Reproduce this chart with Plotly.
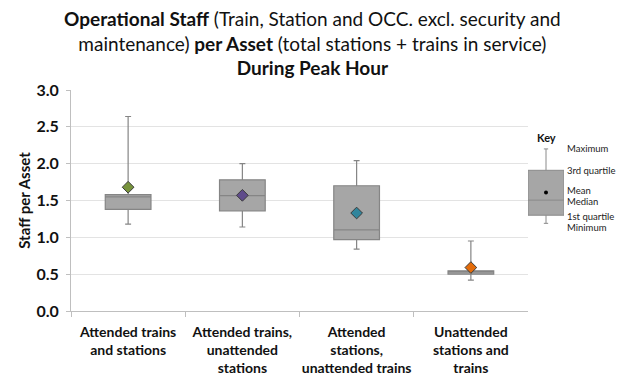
import plotly.graph_objects as go

categories = ["Attended trains<br>and stations",
              "Attended trains,<br>unattended<br>stations",
              "Attended<br>stations,<br>unattended trains",
              "Unattended<br>stations and<br>trains"]
minimum = [1.18, 1.14, 0.84, 0.42]
q1 = [1.38, 1.36, 0.97, 0.50]
median = [1.55, 1.565, 1.10, 0.53]
q3 = [1.58, 1.78, 1.70, 0.545]
maximum = [2.64, 2.00, 2.04, 0.95]
mean = [1.68, 1.57, 1.33, 0.59]
mean_colors = ["#77933c", "#5f4b8b", "#31859c", "#e46c0a"]

key_label = ["Key"]
key_min, key_q1, key_median, key_q3, key_max, key_mean = 1.19, 1.30, 1.505, 1.91, 2.20, 1.61
key_texts = ["Maximum", "3rd quartile", "Mean", "Median", "1st quartile", "Minimum"]
key_vals = [key_max, key_q3, key_mean + 0.03, key_median - 0.02, key_q1 - 0.02, key_min - 0.06]

FONT = "Lato"
fig = go.Figure()

fig.add_trace(go.Box(
    x=categories, q1=q1, median=median, q3=q3,
    lowerfence=minimum, upperfence=maximum,
    width=0.4, whiskerwidth=0.13,
    fillcolor="#a6a6a6", line=dict(color="#858585", width=1.2),
    showlegend=False, hoverinfo="skip", xaxis="x", yaxis="y"))

fig.add_trace(go.Scatter(
    x=categories, y=mean, mode="markers",
    marker=dict(symbol="diamond", size=9, color=mean_colors,
                line=dict(color="#3a3a3a", width=1)),
    showlegend=False, xaxis="x", yaxis="y"))

# Key box
fig.add_trace(go.Box(
    x=key_label, q1=[key_q1], median=[key_median], q3=[key_q3],
    lowerfence=[key_min], upperfence=[key_max],
    width=1.0, whiskerwidth=0.12,
    fillcolor="#a6a6a6", line=dict(color="#8a8a8a", width=1),
    showlegend=False, hoverinfo="skip", xaxis="x2", yaxis="y2"))
fig.add_trace(go.Scatter(
    x=key_label, y=[key_mean], mode="markers",
    marker=dict(size=4, color="black"),
    showlegend=False, xaxis="x2", yaxis="y2"))

W = 620
l, r, t, b = 71, 2, 90, 75
pw = W - l - r
ph = 386 - t - b

annotations = []
for txt, v in zip(key_texts, key_vals):
    annotations.append(dict(text=txt, x=1.04, y=v, xref="x2 domain", yref="y2",
                            xanchor="left", yanchor="middle", showarrow=False,
                            font=dict(family=FONT, size=9.5, color="#222")))
annotations.append(dict(text="<b>Key</b>", x=0.5, y=2.36, xref="x2 domain", yref="y2",
                        xanchor="center", yanchor="middle", showarrow=False,
                        font=dict(family=FONT, size=11, color="#111")))
annotations.append(dict(
    text="<b>Operational Staff</b> (Train, Station and OCC. excl. security and<br>"
         "maintenance) <b>per Asset</b> (total stations + trains in service)<br>"
         "<b>During Peak Hour</b>",
    x=(312 - l) / pw, y=1 + (t - 5) / ph, xref="paper", yref="paper",
    xanchor="center", yanchor="top", showarrow=False, align="center",
    font=dict(family=FONT, size=19, color="#111")))

fig.update_layout(
    width=620, height=386,
    margin=dict(l=l, r=r, t=t, b=b),
    plot_bgcolor="white", paper_bgcolor="white",
    font=dict(family=FONT, color="#111"),
    xaxis=dict(domain=[0, (528 - l) / pw], type="category",
               showline=True, linecolor="#bfbfbf", linewidth=1,
               ticks="outside", tickson="boundaries", ticklen=5, tickcolor="#bfbfbf",
               showgrid=False, ticklabelstandoff=8,
               tickfont=dict(family=FONT, size=14, color="#111", weight="bold"),
               range=[-0.5, 3.5], anchor="y"),
    yaxis=dict(range=[0, 3], dtick=0.5, tickformat=".1f",
               showline=True, linecolor="#bfbfbf", linewidth=1,
               ticks="outside", ticklen=4, tickcolor="#bfbfbf",
               showgrid=True, gridcolor="#e3e3e3", gridwidth=1,
               zeroline=False, ticklabelstandoff=4,
               tickfont=dict(family=FONT, size=16, color="#111", weight="bold"),
               title=dict(text="<b>Staff per Asset</b>", standoff=2,
                          font=dict(family=FONT, size=15, color="#111")),
               anchor="x"),
    xaxis2=dict(domain=[(528 - l) / pw, (564 - l) / pw], type="category",
                visible=False, range=[-0.5, 0.5], anchor="y2"),
    yaxis2=dict(range=[0, 3], visible=False, anchor="x2", domain=[0, 1]),
    annotations=annotations,
)
fig.update_xaxes(tickangle=0)

fig.write_html("out.html", config={"displayModeBar": False},
               post_script="document.body.style.margin='0';")
